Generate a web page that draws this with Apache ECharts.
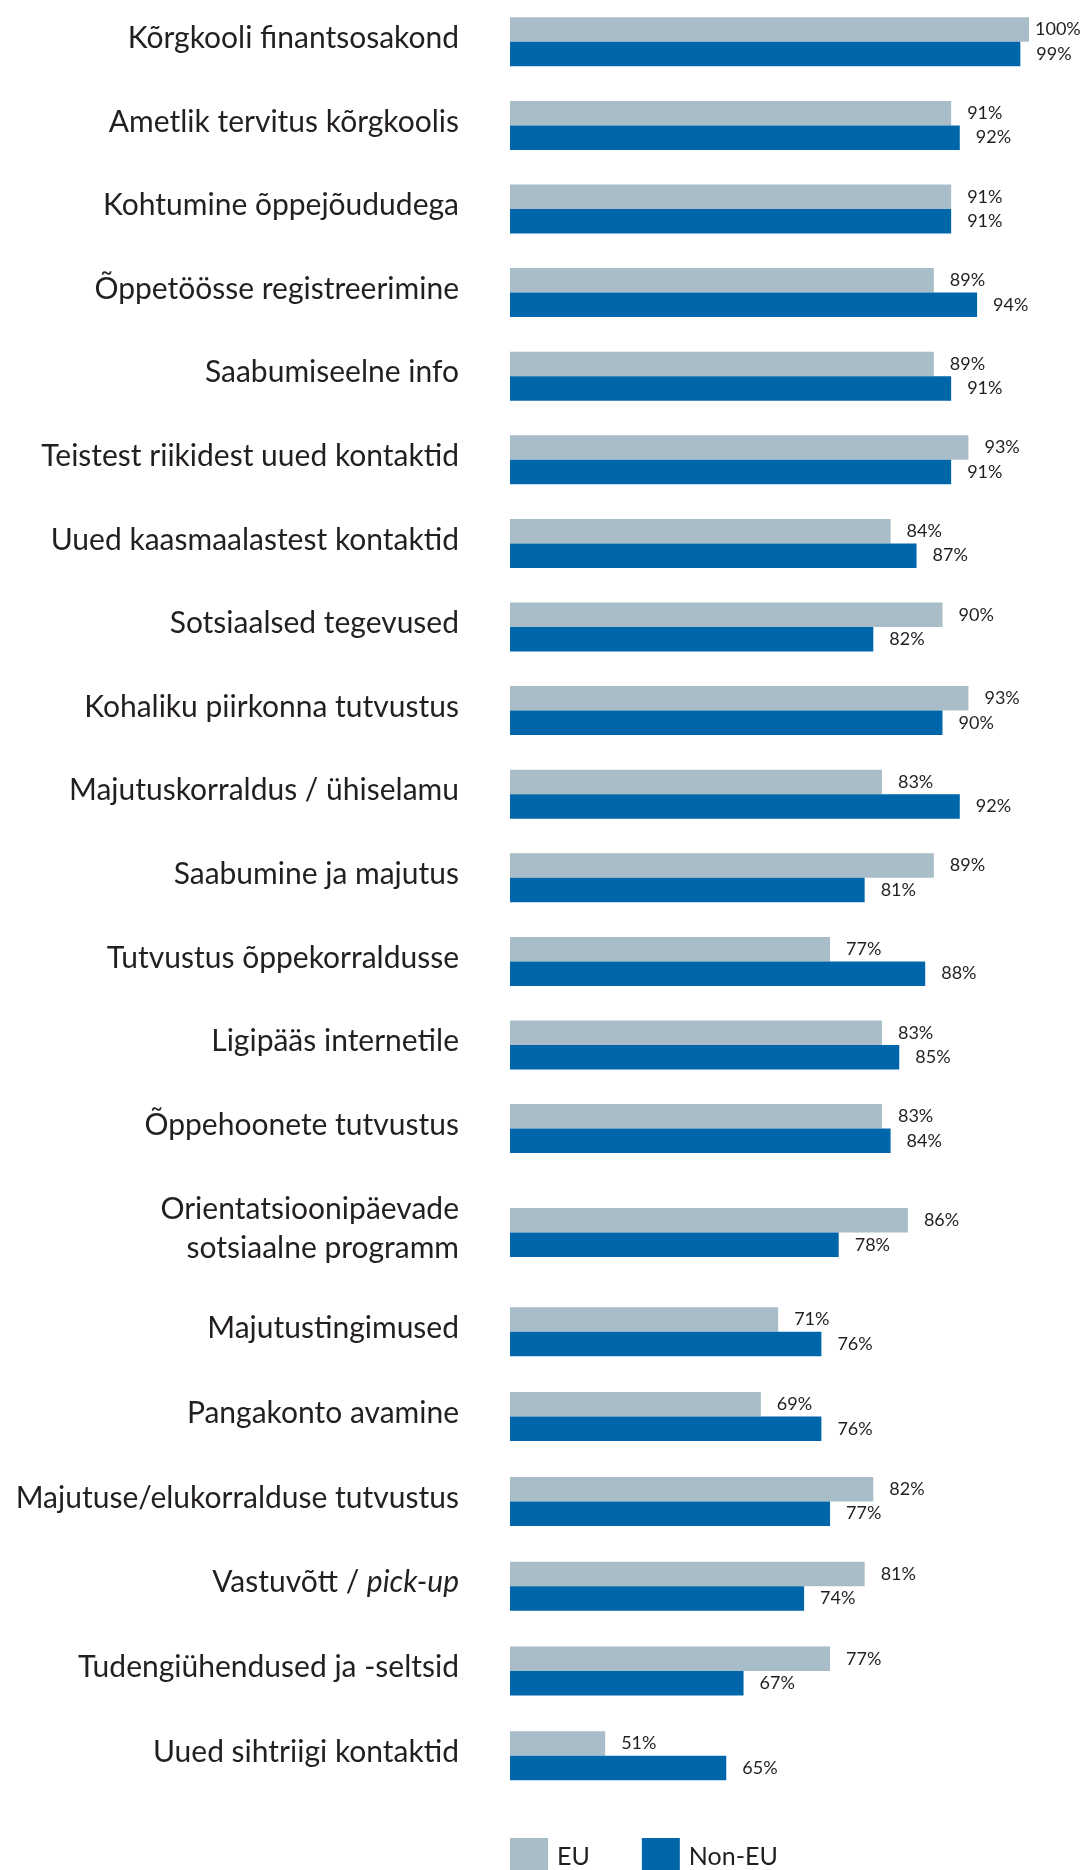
<!DOCTYPE html>
<html>
<head>
<meta charset="utf-8">
<script src="https://cdn.jsdelivr.net/npm/echarts@6/dist/echarts.min.js"></script>
<style>
  html, body { margin: 0; padding: 0; background: #fff; }
  #chart { width: 1082px; height: 1870px; }
</style>
</head>
<body>
<div id="chart"></div>
<script>
// kategooriad ülevalt alla
const categories = [
  'Kõrgkooli finantsosakond',
  'Ametlik tervitus kõrgkoolis',
  'Kohtumine õppejõududega',
  'Õppetöösse registreerimine',
  'Saabumiseelne info',
  'Teistest riikidest uued kontaktid',
  'Uued kaasmaalastest kontaktid',
  'Sotsiaalsed tegevused',
  'Kohaliku piirkonna tutvustus',
  'Majutuskorraldus / ühiselamu',
  'Saabumine ja majutus',
  'Tutvustus õppekorraldusse',
  'Ligipääs internetile',
  'Õppehoonete tutvustus',
  'Orientatsioonipäevade\nsotsiaalne programm',
  'Majutustingimused',
  'Pangakonto avamine',
  'Majutuse/elukorralduse tutvustus',
  'Vastuvõtt / pick-up',
  'Tudengiühendused ja -seltsid',
  'Uued sihtriigi kontaktid'
];
const euValues = [100, 91, 91, 89, 89, 93, 84, 90, 93, 83, 89, 77, 83, 83, 86, 71, 69, 82, 81, 77, 51];
const nonEuValues = [99, 92, 91, 94, 91, 91, 87, 82, 90, 92, 81, 88, 85, 84, 78, 76, 76, 77, 74, 67, 65];

const FONT = 'Lato';
const TEXT = '#231f20';
const EU_COLOR = '#a8bdc8';
const NONEU_COLOR = '#0066aa';

// kolm plokki, et kaherealise sildi ümber jääks rohkem ruumi
const groups = [
  { from: 0, to: 14, top: 0, band: 83.6 },
  { from: 14, to: 15, top: 1190.5, band: 84 },
  { from: 15, to: 21, top: 1289.4, band: 84.8 }
];

const chart = echarts.init(document.getElementById('chart'));

// 100% silt läheb lähemale, muidu jääb pildist välja
const toData = vals => vals.map(v => v >= 100 ? { value: v, label: { distance: 6 } } : v);

const grid = [], xAxis = [], yAxis = [], series = [];
groups.forEach((g, i) => {
  const n = g.to - g.from;
  grid.push({ left: 510, width: 519, top: g.top, height: n * g.band });
  xAxis.push({ gridIndex: i, type: 'value', min: 40, max: 100, show: false });
  yAxis.push({
    gridIndex: i,
    type: 'category',
    inverse: true,
    data: categories.slice(g.from, g.to),
    axisLine: { show: false },
    axisTick: { show: false },
    axisLabel: {
      margin: 51,
      fontSize: 30,
      lineHeight: 39,
      padding: [0, 0, 7, 0],
      color: TEXT,
      fontFamily: FONT,
      formatter: v => v.replace('pick-up', '{i|pick-up}'),
      rich: {
        i: { fontStyle: 'italic', fontSize: 30, color: TEXT, fontFamily: FONT }
      }
    }
  });
  const label = {
    show: true,
    position: 'right',
    distance: 16,
    formatter: '{c}%',
    fontSize: 18,
    color: TEXT,
    fontFamily: FONT
  };
  series.push({
    name: 'EU',
    type: 'bar',
    xAxisIndex: i,
    yAxisIndex: i,
    data: toData(euValues.slice(g.from, g.to)),
    barWidth: 24.5,
    barGap: 0,
    itemStyle: { color: EU_COLOR },
    label: label
  });
  series.push({
    name: 'Non-EU',
    type: 'bar',
    xAxisIndex: i,
    yAxisIndex: i,
    data: toData(nonEuValues.slice(g.from, g.to)),
    barWidth: 24.5,
    barGap: 0,
    itemStyle: { color: NONEU_COLOR },
    label: label
  });
});

chart.setOption({
  backgroundColor: '#fff',
  animation: false,
  textStyle: { fontFamily: FONT },
  legend: {
    data: ['EU', 'Non-EU'],
    left: 510,
    top: 1838,
    padding: 0,
    icon: 'rect',
    itemWidth: 38,
    itemHeight: 38,
    itemGap: 52,
    textStyle: { fontSize: 25, color: TEXT, fontFamily: FONT, padding: [0, 0, 0, 4] }
  },
  grid: grid,
  xAxis: xAxis,
  yAxis: yAxis,
  series: series
});
</script>
</body>
</html>
